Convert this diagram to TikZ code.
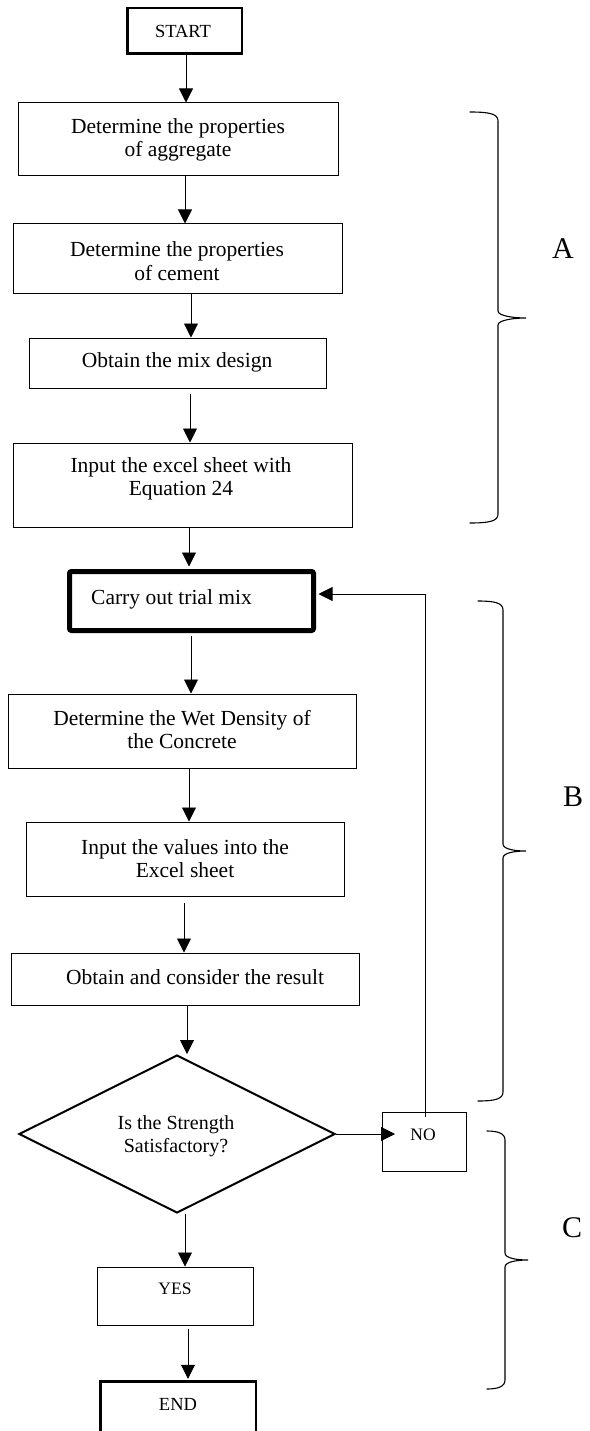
\documentclass[tikz,border=0pt]{standalone}
\usepackage{fontspec}
\setmainfont{Liberation Serif}
\usetikzlibrary{arrows.meta,shapes.geometric}
\newcommand\mybrace[6]{% #1 hook x, #2 vertical x, #3 tip x, #4 top y, #5 tip y, #6 bottom y
  \draw[brace] (#1,#4) .. controls ({#2-8},#4) and (#2,{#4+2}) .. (#2,{#4+9})
    -- (#2,{#5-7}) .. controls (#2,{#5-2}) and ({#3-12},#5) .. (#3,#5)
    .. controls ({#3-12},#5) and (#2,{#5+2}) .. (#2,{#5+7})
    -- (#2,{#6-9}) .. controls (#2,{#6-2}) and ({#2-8},#6) .. (#1,#6);}
\begin{document}
\begin{tikzpicture}[x=1pt,y=-1pt,
  box/.style={draw, line width=1pt, inner sep=0pt},
  thickbox/.style={draw, line width=2.5pt, inner sep=0pt},
  txt/.style={inner sep=0pt, align=center, font=\fontsize{21.5}{23.5}\selectfont},
  term/.style={inner sep=0pt, font=\fontsize{18.5}{20}\selectfont},
  tms/.style={inner sep=0pt, align=center, font=\fontsize{20}{23}\selectfont},
  small/.style={inner sep=0pt, font=\fontsize{17.5}{20}\selectfont},
  big/.style={inner sep=0pt, font=\fontsize{30}{32}\selectfont},
  arr/.style={line width=0.9pt, -{Triangle[width=14pt,length=14pt]}},
  brace/.style={line width=1.1pt, line cap=round}]
\useasboundingbox (0,0) rectangle (589,1431);

% boxes
\node[thickbox, minimum width=114.5pt, minimum height=45.5pt] (start) at (184.5,31) {};
\node[term] (tstart) at (183,31) {START};

\node[box, minimum width=320pt, minimum height=73pt] (b1) at (178,139.5) {};
\node[txt] (t1) at (178,140) {Determine the properties\\of aggregate};

\node[box, minimum width=329pt, minimum height=69pt] (b2) at (177.5,258.5) {};
\node[txt] (t2) at (177,261) {Determine the properties\\of cement};

\node[box, minimum width=297pt, minimum height=50pt] (mix) at (177.5,363) {};
\node[txt] (t3) at (177,362) {Obtain the mix design};

\node[box, minimum width=339pt, minimum height=84pt] (excel) at (182.5,485) {};
\node[txt] (t4) at (181,479) {Input the excel sheet with\\Equation 24};

\node[draw, line width=5pt, rounded corners=2pt, inner sep=0pt, minimum width=244pt, minimum height=59pt] (carry) at (191.5,601) {};
\node[txt, anchor=west] (t5) at (91,599) {Carry out trial mix};

\node[box, minimum width=348pt, minimum height=74pt] (wet) at (182,731) {};
\node[txt] (t6) at (182,729.5) {Determine the Wet Density of\\the Concrete};

\node[box, minimum width=318pt, minimum height=74pt] (values) at (185,859) {};
\node[txt] (t7) at (185,858.5) {Input the values into the\\Excel sheet};

\node[box, minimum width=348pt, minimum height=52pt] (result) at (185,979) {};
\node[txt] (t8) at (195,977) {Obtain and consider the result};

\node[draw, diamond, line width=2pt, inner sep=0pt, aspect=2, minimum width=316pt, minimum height=158pt] (dia) at (177,1134) {};
\node[tms] (tdia) at (176,1136.5) {Is the Strength\\Satisfactory?};

\node[box, minimum width=84pt, minimum height=59pt] (no) at (424,1141.5) {};
\node[small] (tno) at (423,1135) {NO};

\node[box, minimum width=156pt, minimum height=58pt] (yes) at (175,1296) {};
\node[small] (tyes) at (175,1289) {YES};

\node[thickbox, minimum width=155.5pt, minimum height=67.5pt] (end) at (178,1415) {};
\node[term] (tend) at (178,1404.5) {END};

% labels
\node[big] (labA) at (563,249) {A};
\node[big] (labB) at (573,797) {B};
\node[big] (labC) at (572,1228) {C};

% connector helper coordinates
\coordinate (m1) at (190,394);
\coordinate (v1) at (184,903);
\coordinate (y1) at (188,1329);
\coordinate (noin) at (395,1134);
\coordinate (loopstart) at (425,1117);
\coordinate (looptop) at (425,594);

% connectors
\draw[arr] (start.south -| 186,0) -- (b1.north -| 186,0);
\draw[arr] (b1.south -| 185,0) -- (b2.north -| 185,0);
\draw[arr] (b2.south -| 191,0) -- (mix.north -| 191,0);
\draw[arr] (m1) -- (excel.north -| m1);
\draw[arr] (excel.south -| 189,0) -- ([yshift=2.5pt]carry.north -| 189,0);
\draw[arr] ([yshift=-2.5pt]carry.south -| 191,0) -- (wet.north -| 191,0);
\draw[arr] (wet.south -| 189,0) -- (values.north -| 189,0);
\draw[arr] (v1) -- (result.north -| v1);
\draw[arr] (result.south -| 187,0) -- (dia.north -| 187,0);
\draw[arr] (dia.south -| 185,0) -- (yes.north -| 185,0);
\draw[arr] (y1) -- ([yshift=1.25pt]end.north -| y1);
\draw[arr] (dia.east) -- (noin);
\draw[arr] (loopstart) -- (looptop) -- ([xshift=2.5pt]carry.east |- looptop);

% braces
\mybrace{470}{498}{526}{112}{318}{523}
\mybrace{478}{503}{526}{601}{851}{1101}
\mybrace{487}{505}{528}{1131}{1260}{1389}
\end{tikzpicture}
\end{document}
